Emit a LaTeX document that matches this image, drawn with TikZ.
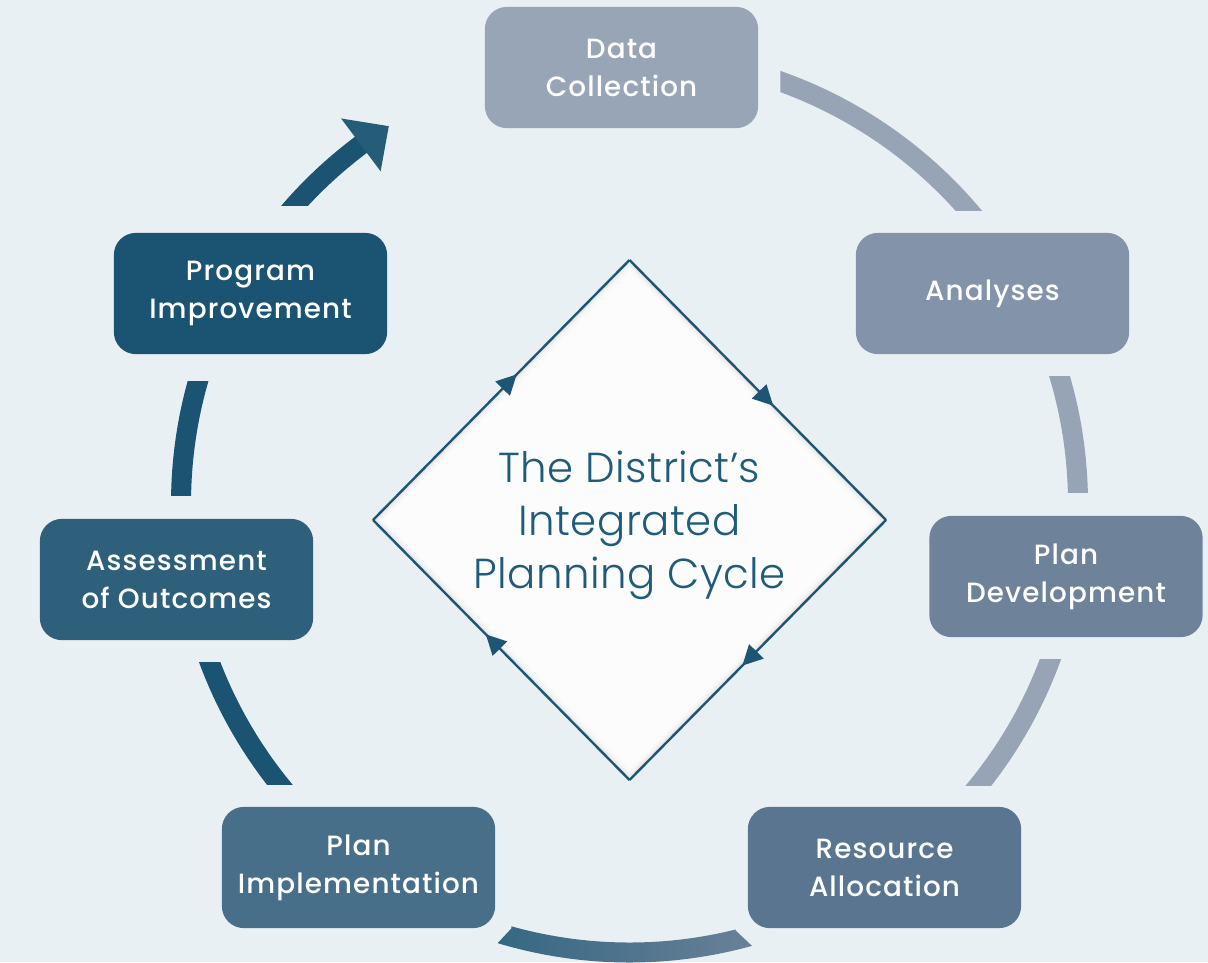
\documentclass[tikz,border=0pt]{standalone}
\usepackage{fontspec}
\usepackage{tikz}
\usetikzlibrary{arrows.meta, calc, decorations.markings}
\newfontfamily\boxfont{Poppins Medium}[LetterSpace=4]
\newfontfamily\hubfont{Poppins Light}[LetterSpace=1]
\definecolor{bgcol}{HTML}{E9F0F4}
\definecolor{stepA}{HTML}{98A5B6}
\definecolor{stepB}{HTML}{8393A9}
\definecolor{stepC}{HTML}{6E8299}
\definecolor{stepD}{HTML}{5A7590}
\definecolor{stepE}{HTML}{486F8A}
\definecolor{stepF}{HTML}{2E607B}
\definecolor{stepG}{HTML}{1A5472}
\definecolor{ringlight}{HTML}{97A4B5}
\definecolor{ringdark}{HTML}{1A5472}
\definecolor{ringmid}{HTML}{70849B}
\definecolor{hubline}{HTML}{1F5574}
\definecolor{hubtext}{HTML}{1F5C7B}

\begin{document}
\begin{tikzpicture}[x=0.025cm, y=-0.025cm,
    stepbox/.style={rectangle, rounded corners=0.55cm, minimum width=6.83cm, minimum height=3.03cm,
        text=white, align=center, font=\boxfont\fontsize{19.8}{27}\selectfont},
    ring/.style={line width=0.5cm},
    edge/.style={draw=hubline, line width=1.7pt, postaction={decorate},
        decoration={markings, mark=at position 0.56 with {\arrow[hubline]{Triangle[length=0.5cm, width=0.5cm]}}}}]
    \fill[bgcol] (0,0) rectangle (1208,962);
    \useasboundingbox (0,0) rectangle (1208,962);

    % diamond in the middle
    \coordinate (ctr) at (629.5,504);
    \coordinate (dtop) at (629.5,260);
    \coordinate (dleft) at (373,520);
    \coordinate (dright) at (886,520);
    \coordinate (dbot) at (629.5,780);
    \fill[black!14] (dleft) -- (dtop) -- (dright) -- (dbot) -- cycle;
    \foreach \k in {1.5,3,...,21}
        \fill[white, fill opacity=0.3] ($(dleft)+(\k,0)$) -- ($(dtop)+(0,\k)$) -- ($(dright)+(-\k,0)$) -- ($(dbot)+(0,-\k)$) -- cycle;
    \draw[edge] (dleft) -- (dtop);
    \draw[edge] (dtop) -- (dright);
    \draw[edge] (dright) -- (dbot);
    \draw[edge] (dbot) -- (dleft);
    \node[text=hubtext, align=center, font=\hubfont\fontsize{29.8}{37.6}\selectfont] (hub) at (629.5,525) {The District’s\\Integrated\\Planning Cycle};

    % the seven steps
    \node[stepbox, fill=stepA] (dc) at (621.5,67.5) {Data\\Collection};
    \node[stepbox, fill=stepB] (an) at (992.5,293.5) {Analyses};
    \node[stepbox, fill=stepC] (pd) at (1066,576.5) {Plan\\Development};
    \node[stepbox, fill=stepD] (ra) at (884.5,867.5) {Resource\\Allocation};
    \node[stepbox, fill=stepE] (pi) at (358.5,867.5) {Plan\\Implementation};
    \node[stepbox, fill=stepF] (ao) at (176.5,579.5) {Assessment\\of Outcomes};
    \node[stepbox, fill=stepG] (pim) at (250.5,293.5) {Program\\Improvement};

    % ring pieces between the boxes
    \begin{scope}
        \clip ($(dc.east)+(22,-200)$) rectangle ($(an.north)+(300,-22)$);
        \draw[ring, draw=ringlight] (ctr) circle[radius=448.5];
    \end{scope}
    \begin{scope}
        \clip ($(an.south)+(-200,22)$) rectangle ($(pd.north)+(200,-23)$);
        \draw[ring, draw=ringlight] (ctr) circle[radius=448.5];
    \end{scope}
    \begin{scope}
        \clip ($(pd.south)+(-300,22)$) rectangle ($(ra.north)+(200,-21)$);
        \draw[ring, draw=ringlight] (ctr) circle[radius=448.5];
    \end{scope}
    \begin{scope}
        \clip ($(pi.south east)+(16,-40)$) -- ($(pi.south east)+(16,0)$) -- ($(pi.south east)+(1,16)$)
            -- ($(pi.south east)+(1,60)$) -- ($(ra.south west)+(5,60)$) -- ($(ra.south west)+(5,18)$)
            -- ($(ra.south west)+(-12,2)$) -- ($(ra.south west)+(-12,-40)$) -- cycle;
        \shade[left color=ringdark!90!white, right color=ringmid]
            ([shift={(ctr)}]70:458.5) arc[start angle=70, end angle=110, radius=458.5]
            -- ([shift={(ctr)}]110:438.5) arc[start angle=110, end angle=70, radius=438.5] -- cycle;
    \end{scope}
    \begin{scope}
        \clip ($(ao.south)+(-300,22)$) rectangle ($(pi.north)+(100,-22)$);
        \draw[ring, draw=ringdark] (ctr) circle[radius=448.5];
    \end{scope}
    \begin{scope}
        \clip ($(pim.south)+(-300,27)$) rectangle ($(ao.north)+(100,-23)$);
        \draw[ring, draw=ringdark] (ctr) circle[radius=448.5];
    \end{scope}
    \begin{scope}
        \clip ($(pim.north)+(-200,-27)$) rectangle ($(pim.north)+(250,-300)$);
        \draw[ring, draw=ringdark] ([shift={(ctr)}]215:448.5) arc[start angle=215, end angle=233.5, radius=448.5];
    \end{scope}
    \fill[ringdark!95!white] ([shift={(ctr)}]233.2:415.5) -- ([shift={(ctr)}]237.5:448) -- ([shift={(ctr)}]233.2:481.5) -- cycle;
\end{tikzpicture}
\end{document}
